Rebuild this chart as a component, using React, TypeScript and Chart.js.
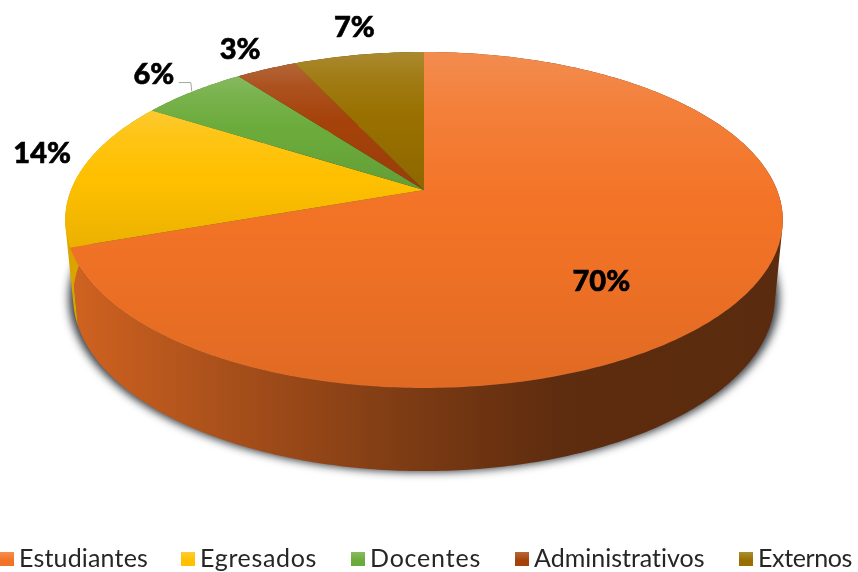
import React, { useEffect, useRef } from "react";
import { Chart, registerables } from "chart.js";

Chart.register(...registerables);

const categories = ["Estudiantes", "Egresados", "Docentes", "Administrativos", "Externos"];
const shares = [69.6, 14.4, 5.75, 3.25, 7];
const sliceColors = ["#F37326", "#FFC000", "#6BAB3B", "#A5420A", "#997000"];
const labelOffsets = [[-144, -13], [-38, -18.5], [-39, -17], [-26, -20], [-4, -27]];
const legendStarts = [0, 181, 351, 515, 739];
const legendWidths = [129, 117, 111, 171, 94];

const CX = 424, AY = 190, C = 353, A = 162.6, B = -0.1786;
const WALL_Y = 266, WALL_SX = 0.978, WALL_SY = 1.036;

const project = (a: number, r = 1, wall = false, grow = 1) => {
  const u = Math.cos(a) * r, v = Math.sin(a) * r, w = 1 + B * v;
  const sx = wall ? WALL_SX * grow : 1;
  const sy = wall ? WALL_SY : 1;
  return { x: CX + (sx * C * u) / w, y: (wall ? WALL_Y : AY) + (sy * A * v) / w };
};

const rgb = (hex: string) => [1, 3, 5].map((i) => parseInt(hex.slice(i, i + 2), 16));

const arcPoints = (start: number, end: number, wall = false, grow = 1) => {
  const n = Math.max(8, Math.ceil((end - start) * 80));
  const pts = [];
  for (let i = 0; i <= n; i++) pts.push(project(start + ((end - start) * i) / n, 1, wall, grow));
  return pts;
};

const tracePts = (ctx: CanvasRenderingContext2D, pts: { x: number; y: number }[], first = true) => {
  pts.forEach((p, i) => (i === 0 && first ? ctx.moveTo(p.x, p.y) : ctx.lineTo(p.x, p.y)));
};

const pie3d = {
  id: "pie3d",
  beforeDatasetsDraw(chart: any) {
    const ctx: CanvasRenderingContext2D = chart.ctx;
    const arcs = chart.getDatasetMeta(0).data;
    ctx.save();

    // drop shadow under the base (shape drawn off-canvas so only its shadow lands)
    ctx.save();
    const away = 3000;
    ctx.shadowColor = "rgba(45,50,55,0.95)";
    ctx.shadowBlur = 9;
    ctx.shadowOffsetX = away;
    ctx.shadowOffsetY = 1;
    ctx.fillStyle = "#000";
    ctx.beginPath();
    tracePts(ctx, arcPoints(0, Math.PI * 2, true, 1.012).map((p) => ({ x: p.x - away, y: p.y })));
    ctx.closePath();
    ctx.fill();
    ctx.restore();

    // walls
    arcs.forEach((arc: any, i: number) => {
      const [r, g, b] = rgb(sliceColors[i]);
      const grad = ctx.createLinearGradient(75, 0, 780, 0);
      const stops: [number, number][] = [[75, 0.85], [240, 0.68], [420, 0.5], [560, 0.385], [780, 0.37]];
      stops.forEach(([x, f]) =>
        grad.addColorStop((x - 75) / 705, `rgb(${r * f},${g * f},${b * f})`)
      );
      ctx.fillStyle = grad;
      const top = arcPoints(arc.startAngle, arc.endAngle);
      const bot = arcPoints(arc.startAngle, arc.endAngle, true);
      ctx.beginPath();
      for (let k = 0; k < top.length - 1; k++) {
        const q = [top[k], top[k + 1], bot[k + 1], bot[k]];
        let area = 0;
        q.forEach((p, n) => {
          const o = q[(n + 1) % 4];
          area += p.x * o.y - o.x * p.y;
        });
        tracePts(ctx, area < 0 ? q.reverse() : q);
        ctx.closePath();
      }
      ctx.fill();
    });

    // top faces
    arcs.forEach((arc: any, i: number) => {
      const pts = arcPoints(arc.startAngle, arc.endAngle);
      const ys = pts.map((p) => p.y).concat(AY);
      const overlay = ctx.createLinearGradient(0, Math.min(...ys), 0, Math.max(...ys));
      overlay.addColorStop(0, "rgba(240,240,240,0.2)");
      overlay.addColorStop(0.18, "rgba(245,245,245,0.09)");
      overlay.addColorStop(0.42, "rgba(255,255,255,0.01)");
      overlay.addColorStop(0.5, "rgba(0,0,0,0)");
      overlay.addColorStop(1, "rgba(0,0,0,0.08)");
      ctx.beginPath();
      ctx.moveTo(CX, AY);
      tracePts(ctx, pts, false);
      ctx.closePath();
      ctx.fillStyle = sliceColors[i];
      ctx.fill();
      ctx.fillStyle = overlay;
      ctx.fill();
    });

    // data labels and leader
    ctx.fillStyle = "#000";
    ctx.strokeStyle = "#000";
    ctx.lineWidth = 0.6;
    ctx.font = "900 29px Lato";
    ctx.textAlign = "center";
    ctx.textBaseline = "middle";
    arcs.forEach((arc: any, i: number) => {
      const rim = project((arc.startAngle + arc.endAngle) / 2);
      const text = `${Math.round(shares[i])}%`;
      ctx.fillText(text, rim.x + labelOffsets[i][0], rim.y + labelOffsets[i][1]);
      ctx.strokeText(text, rim.x + labelOffsets[i][0], rim.y + labelOffsets[i][1]);
    });
    arcs.forEach((arc: any, i: number) => {
      if (i !== 2) return;
      const rim = project((arc.startAngle + arc.endAngle) / 2);
      ctx.strokeStyle = "#A6A6A6";
      ctx.lineWidth = 1;
      ctx.beginPath();
      ctx.moveTo(rim.x - 14, rim.y - 9);
      ctx.lineTo(rim.x - 2, rim.y - 9);
      ctx.lineTo(rim.x - 1, rim.y);
      ctx.stroke();
    });

    // legend
    ctx.textAlign = "left";
    ctx.font = "25px Lato";
    categories.forEach((name, i) => {
      const x = legendStarts[i];
      const [r, g, b] = rgb(sliceColors[i]);
      const g2 = ctx.createLinearGradient(0, 552, 0, 566);
      g2.addColorStop(0, `rgb(${r + (255 - r) * 0.2},${g + (255 - g) * 0.2},${b + (255 - b) * 0.2})`);
      g2.addColorStop(0.6, sliceColors[i]);
      ctx.fillStyle = g2;
      ctx.fillRect(x, 552, 14, 14);
      ctx.fillStyle = "#262626";
      (ctx as any).letterSpacing = "0px";
      const natural = ctx.measureText(name).width;
      (ctx as any).letterSpacing = `${(legendWidths[i] - natural) / name.length}px`;
      ctx.fillText(name, x + 19, 559);
      (ctx as any).letterSpacing = "0px";
    });

    ctx.restore();
    return false;
  },
};

export default function App() {
  const ref = useRef<HTMLCanvasElement>(null);
  useEffect(() => {
    const chart = new Chart(ref.current!, {
      type: "pie",
      data: {
        labels: categories,
        datasets: [{ data: shares, backgroundColor: sliceColors, borderWidth: 0 }],
      },
      options: {
        responsive: false,
        animation: false,
        plugins: { legend: { display: false }, tooltip: { enabled: false } },
      },
      plugins: [pie3d],
    } as any);
    return () => chart.destroy();
  }, []);
  return (
    <div style={{ position: "absolute", left: 0, top: 0, width: 858, height: 572, background: "#fff" }}>
      <canvas ref={ref} width={858} height={572} style={{ display: "block" }} />
    </div>
  );
}
